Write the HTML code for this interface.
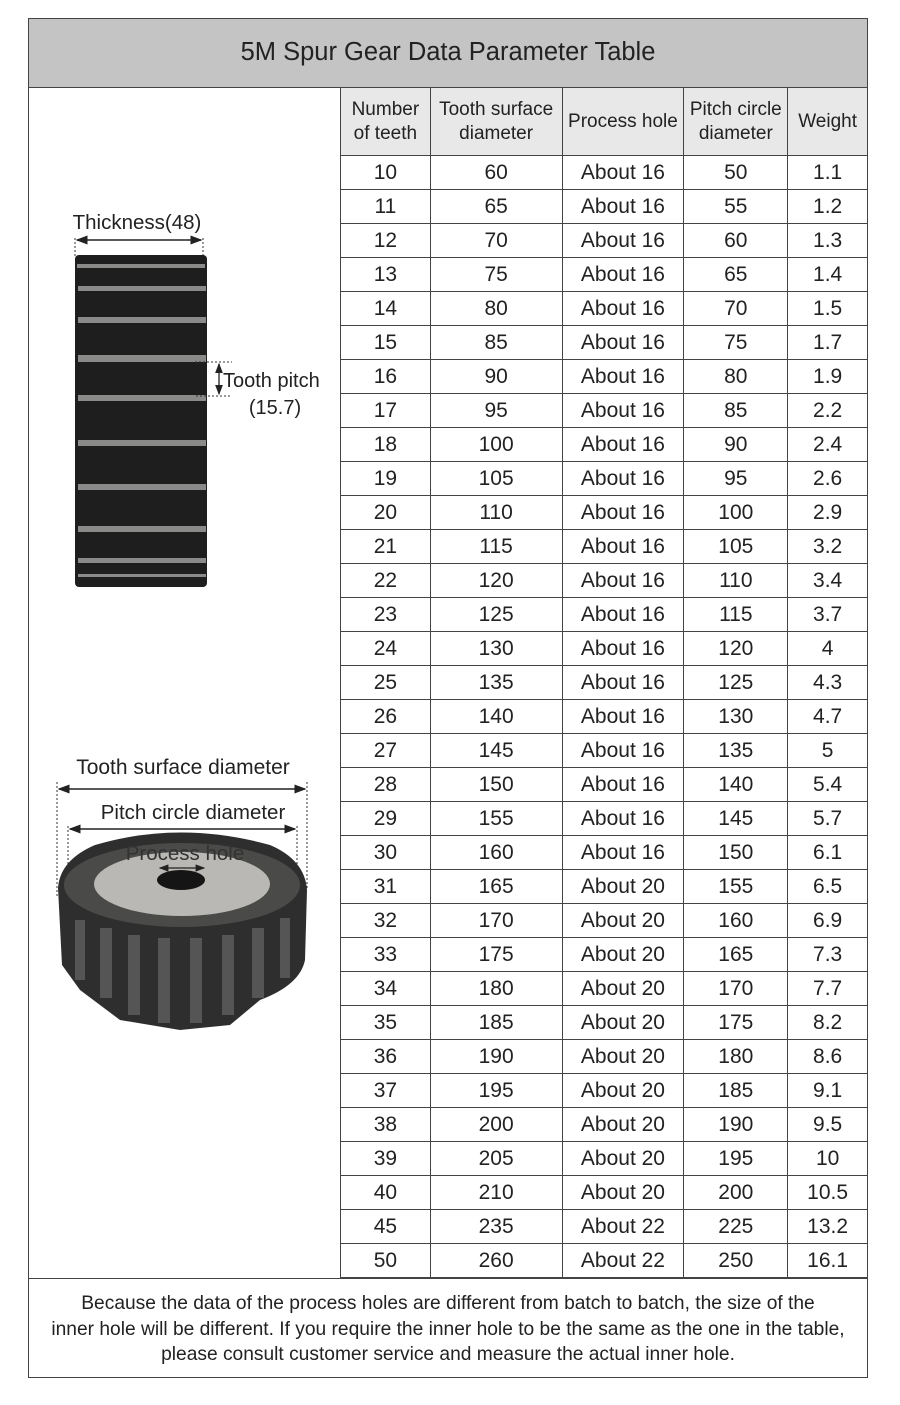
<!DOCTYPE html>
<html><head><meta charset="utf-8"><style>
body{margin:0;width:900px;height:1405px;background:#fff;position:relative;font-family:"Liberation Sans",Arial,sans-serif;color:#222;overflow:hidden}
.a{position:absolute}
.box{left:28px;top:18px;width:840px;height:1360px;border:1px solid #444;box-sizing:border-box}
.title{left:29px;top:19px;width:838px;height:68px;background:#c4c4c4;border-bottom:1px solid #444;text-align:center;line-height:66px;font-size:25.5px;color:#222}
table{position:absolute;left:340px;top:87px;border-collapse:collapse;width:528px}
td{border:1px solid #444;text-align:center;font-size:21px;height:33px;padding:0;line-height:33px}
th{border:1px solid #444;background:#e8e8e8;font-weight:normal;font-size:19px;line-height:24px;height:67px;padding:0;white-space:nowrap}
.foot{left:29px;top:1291px;width:838px;text-align:center;font-size:19.2px;line-height:25.5px;color:#222;white-space:nowrap}
</style></head><body>
<div class="a box"></div>
<div class="a title">5M Spur Gear Data Parameter Table</div>
<table>
<colgroup><col style="width:90px"><col style="width:132px"><col style="width:122px"><col style="width:104px"><col style="width:80px"></colgroup>
<tr><th>Number<br>of teeth</th><th>Tooth surface<br>diameter</th><th>Process hole</th><th>Pitch circle<br>diameter</th><th>Weight</th></tr>
<tr><td>10</td><td>60</td><td>About 16</td><td>50</td><td>1.1</td></tr>
<tr><td>11</td><td>65</td><td>About 16</td><td>55</td><td>1.2</td></tr>
<tr><td>12</td><td>70</td><td>About 16</td><td>60</td><td>1.3</td></tr>
<tr><td>13</td><td>75</td><td>About 16</td><td>65</td><td>1.4</td></tr>
<tr><td>14</td><td>80</td><td>About 16</td><td>70</td><td>1.5</td></tr>
<tr><td>15</td><td>85</td><td>About 16</td><td>75</td><td>1.7</td></tr>
<tr><td>16</td><td>90</td><td>About 16</td><td>80</td><td>1.9</td></tr>
<tr><td>17</td><td>95</td><td>About 16</td><td>85</td><td>2.2</td></tr>
<tr><td>18</td><td>100</td><td>About 16</td><td>90</td><td>2.4</td></tr>
<tr><td>19</td><td>105</td><td>About 16</td><td>95</td><td>2.6</td></tr>
<tr><td>20</td><td>110</td><td>About 16</td><td>100</td><td>2.9</td></tr>
<tr><td>21</td><td>115</td><td>About 16</td><td>105</td><td>3.2</td></tr>
<tr><td>22</td><td>120</td><td>About 16</td><td>110</td><td>3.4</td></tr>
<tr><td>23</td><td>125</td><td>About 16</td><td>115</td><td>3.7</td></tr>
<tr><td>24</td><td>130</td><td>About 16</td><td>120</td><td>4</td></tr>
<tr><td>25</td><td>135</td><td>About 16</td><td>125</td><td>4.3</td></tr>
<tr><td>26</td><td>140</td><td>About 16</td><td>130</td><td>4.7</td></tr>
<tr><td>27</td><td>145</td><td>About 16</td><td>135</td><td>5</td></tr>
<tr><td>28</td><td>150</td><td>About 16</td><td>140</td><td>5.4</td></tr>
<tr><td>29</td><td>155</td><td>About 16</td><td>145</td><td>5.7</td></tr>
<tr><td>30</td><td>160</td><td>About 16</td><td>150</td><td>6.1</td></tr>
<tr><td>31</td><td>165</td><td>About 20</td><td>155</td><td>6.5</td></tr>
<tr><td>32</td><td>170</td><td>About 20</td><td>160</td><td>6.9</td></tr>
<tr><td>33</td><td>175</td><td>About 20</td><td>165</td><td>7.3</td></tr>
<tr><td>34</td><td>180</td><td>About 20</td><td>170</td><td>7.7</td></tr>
<tr><td>35</td><td>185</td><td>About 20</td><td>175</td><td>8.2</td></tr>
<tr><td>36</td><td>190</td><td>About 20</td><td>180</td><td>8.6</td></tr>
<tr><td>37</td><td>195</td><td>About 20</td><td>185</td><td>9.1</td></tr>
<tr><td>38</td><td>200</td><td>About 20</td><td>190</td><td>9.5</td></tr>
<tr><td>39</td><td>205</td><td>About 20</td><td>195</td><td>10</td></tr>
<tr><td>40</td><td>210</td><td>About 20</td><td>200</td><td>10.5</td></tr>
<tr><td>45</td><td>235</td><td>About 22</td><td>225</td><td>13.2</td></tr>
<tr><td>50</td><td>260</td><td>About 22</td><td>250</td><td>16.1</td></tr>
</table>
<div class="a" style="left:28px;top:1278px;width:840px;border-top:1px solid #444"></div>
<div class="a foot">Because the data of the process holes are different from batch to batch, the size of the<br>inner hole will be different. If you require the inner hole to be the same as the one in the table,<br>please consult customer service and measure the actual inner hole.</div>

<svg class="a" style="left:29px;top:88px" width="311" height="1190" viewBox="29 88 311 1190">
<defs><marker id="ar" markerWidth="8" markerHeight="8" refX="7" refY="4" orient="auto-start-reverse"><path d="M0,1 L8,4 L0,7 z" fill="#222"/></marker></defs>
<text x="137" y="229" font-size="20.5" text-anchor="middle" fill="#222" font-family="Liberation Sans">Thickness(48)</text>
<line x1="75" y1="238" x2="75" y2="258" stroke="#333" stroke-dasharray="2,2"/>
<line x1="203" y1="238" x2="203" y2="258" stroke="#333" stroke-dasharray="2,2"/>
<line x1="77" y1="240" x2="201" y2="240" stroke="#222" stroke-width="1.5" marker-start="url(#ar)" marker-end="url(#ar)"/>
<rect x="75" y="255" width="132" height="332" rx="4" fill="#1e1e1e"/>
<g fill="#8a8a88">
<rect x="77" y="264" width="128" height="4"/><rect x="78" y="286" width="128" height="5"/>
<rect x="78" y="317" width="128" height="6"/><rect x="78" y="355" width="128" height="7"/>
<rect x="78" y="395" width="128" height="6"/><rect x="78" y="440" width="128" height="6"/>
<rect x="78" y="484" width="128" height="6"/><rect x="78" y="526" width="128" height="6"/>
<rect x="78" y="558" width="128" height="5"/><rect x="78" y="574" width="128" height="3"/>
</g>
<line x1="195" y1="362" x2="232" y2="362" stroke="#333" stroke-dasharray="2,2"/>
<line x1="196" y1="396" x2="232" y2="396" stroke="#333" stroke-dasharray="2,2"/>
<line x1="219" y1="364" x2="219" y2="394" stroke="#222" stroke-width="1.3" marker-start="url(#ar)" marker-end="url(#ar)"/>
<text x="223" y="387" font-size="20" fill="#222" font-family="Liberation Sans">Tooth pitch</text>
<text x="275" y="414" font-size="20" fill="#222" text-anchor="middle" font-family="Liberation Sans">(15.7)</text>
<text x="183" y="774" font-size="21" text-anchor="middle" fill="#222" font-family="Liberation Sans">Tooth surface diameter</text>
<line x1="57" y1="782" x2="57" y2="898" stroke="#333" stroke-dasharray="2,2"/>
<line x1="307" y1="782" x2="307" y2="888" stroke="#333" stroke-dasharray="2,2"/>
<line x1="59" y1="789" x2="305" y2="789" stroke="#222" stroke-width="1.5" marker-start="url(#ar)" marker-end="url(#ar)"/>
<text x="193" y="819" font-size="20.5" text-anchor="middle" fill="#222" font-family="Liberation Sans">Pitch circle diameter</text>
<line x1="68" y1="826" x2="68" y2="880" stroke="#333" stroke-dasharray="2,2"/>
<line x1="297" y1="826" x2="297" y2="870" stroke="#333" stroke-dasharray="2,2"/>
<line x1="70" y1="829" x2="295" y2="829" stroke="#222" stroke-width="1.5" marker-start="url(#ar)" marker-end="url(#ar)"/>
<path d="M58,888 Q60,860 95,845 Q180,820 270,845 Q305,860 307,890 L305,960 Q300,985 260,1000 L230,1025 L180,1030 L120,1020 L80,990 L62,965 Z" fill="#2e2e2e"/>
<g fill="#555">
<rect x="75" y="920" width="10" height="60"/><rect x="100" y="928" width="12" height="70"/><rect x="128" y="935" width="12" height="80"/>
<rect x="158" y="938" width="12" height="85"/><rect x="190" y="938" width="12" height="85"/><rect x="222" y="935" width="12" height="80"/>
<rect x="252" y="928" width="12" height="70"/><rect x="280" y="918" width="10" height="60"/>
</g>
<ellipse cx="182" cy="885" rx="118" ry="42" fill="#4a4a48"/>
<ellipse cx="182" cy="884" rx="88" ry="32" fill="#b9b8b4"/>
<ellipse cx="181" cy="880" rx="24" ry="10" fill="#151515"/>
<text x="185" y="860" font-size="20.5" text-anchor="middle" fill="#333" font-family="Liberation Sans">Process hole</text>
<line x1="160" y1="868" x2="204" y2="868" stroke="#222" stroke-width="1.2" marker-start="url(#ar)" marker-end="url(#ar)"/>
</svg>
</body></html>
